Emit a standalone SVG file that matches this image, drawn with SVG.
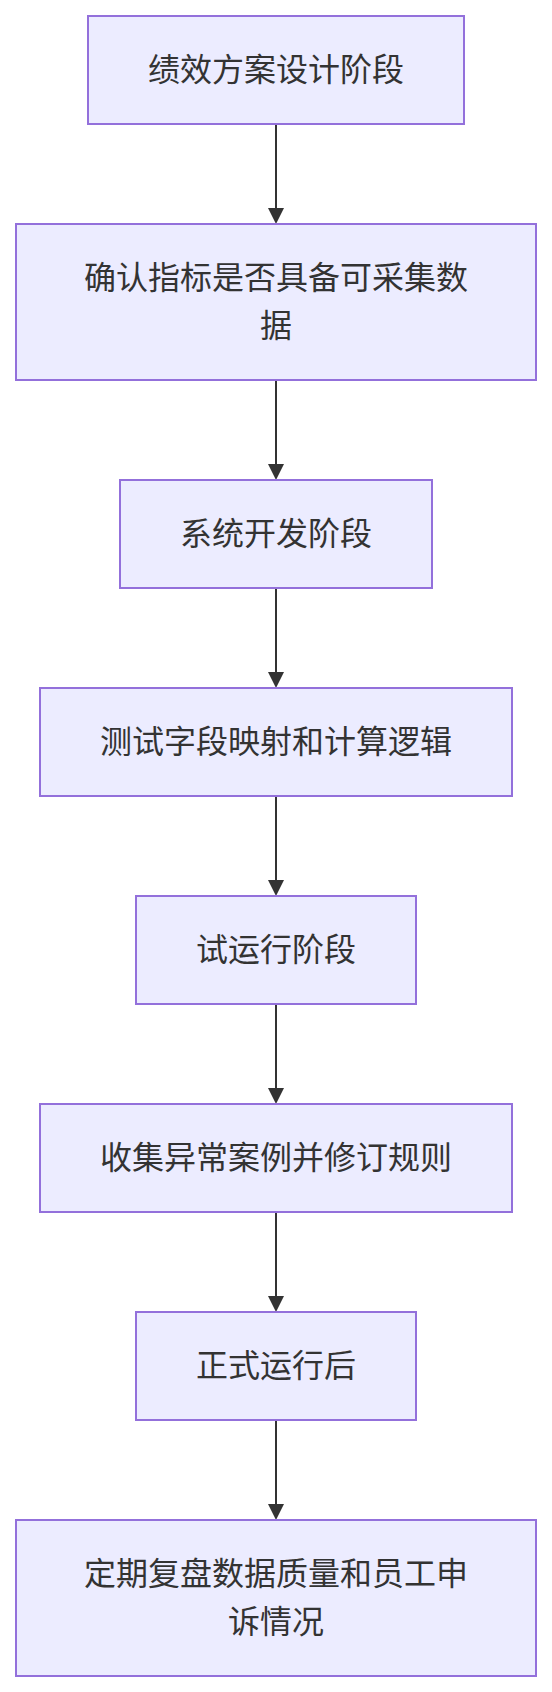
<svg xmlns="http://www.w3.org/2000/svg" width="552" height="1692" viewBox="0 0 552 1692">
<style>
.node rect{fill:#ECECFF;stroke:#9370DB;stroke-width:2}
.node text{fill:#333333;font-family:"Liberation Sans","Noto Sans CJK SC",sans-serif;font-size:32px;text-anchor:middle;dominant-baseline:central}
.edge line{stroke:#333333;stroke-width:2}
.edge polygon{fill:#333333}
</style>
<rect x="0" y="0" width="552" height="1692" fill="#ffffff"/>
<g id="connectors" class="edge">
<line x1="276" y1="124" x2="276" y2="210"/><polygon points="268,208 284,208 276,224"/>
<line x1="276" y1="380" x2="276" y2="466"/><polygon points="268,464 284,464 276,480"/>
<line x1="276" y1="588" x2="276" y2="674"/><polygon points="268,672 284,672 276,688"/>
<line x1="276" y1="796" x2="276" y2="882"/><polygon points="268,880 284,880 276,896"/>
<line x1="276" y1="1004" x2="276" y2="1090"/><polygon points="268,1088 284,1088 276,1104"/>
<line x1="276" y1="1212" x2="276" y2="1298"/><polygon points="268,1296 284,1296 276,1312"/>
<line x1="276" y1="1420" x2="276" y2="1506"/><polygon points="268,1504 284,1504 276,1520"/>
</g>
<g id="n1" class="node"><rect x="88" y="16" width="376" height="108"/><text x="276" y="70">绩效方案设计阶段</text></g>
<g id="n2" class="node"><rect x="16" y="224" width="520" height="156"/><text x="276" y="278">确认指标是否具备可采集数</text><text x="276" y="326">据</text></g>
<g id="n3" class="node"><rect x="120" y="480" width="312" height="108"/><text x="276" y="534">系统开发阶段</text></g>
<g id="n4" class="node"><rect x="40" y="688" width="472" height="108"/><text x="276" y="742">测试字段映射和计算逻辑</text></g>
<g id="n5" class="node"><rect x="136" y="896" width="280" height="108"/><text x="276" y="950">试运行阶段</text></g>
<g id="n6" class="node"><rect x="40" y="1104" width="472" height="108"/><text x="276" y="1158">收集异常案例并修订规则</text></g>
<g id="n7" class="node"><rect x="136" y="1312" width="280" height="108"/><text x="276" y="1366">正式运行后</text></g>
<g id="n8" class="node"><rect x="16" y="1520" width="520" height="156"/><text x="276" y="1574">定期复盘数据质量和员工申</text><text x="276" y="1622">诉情况</text></g>
</svg>
